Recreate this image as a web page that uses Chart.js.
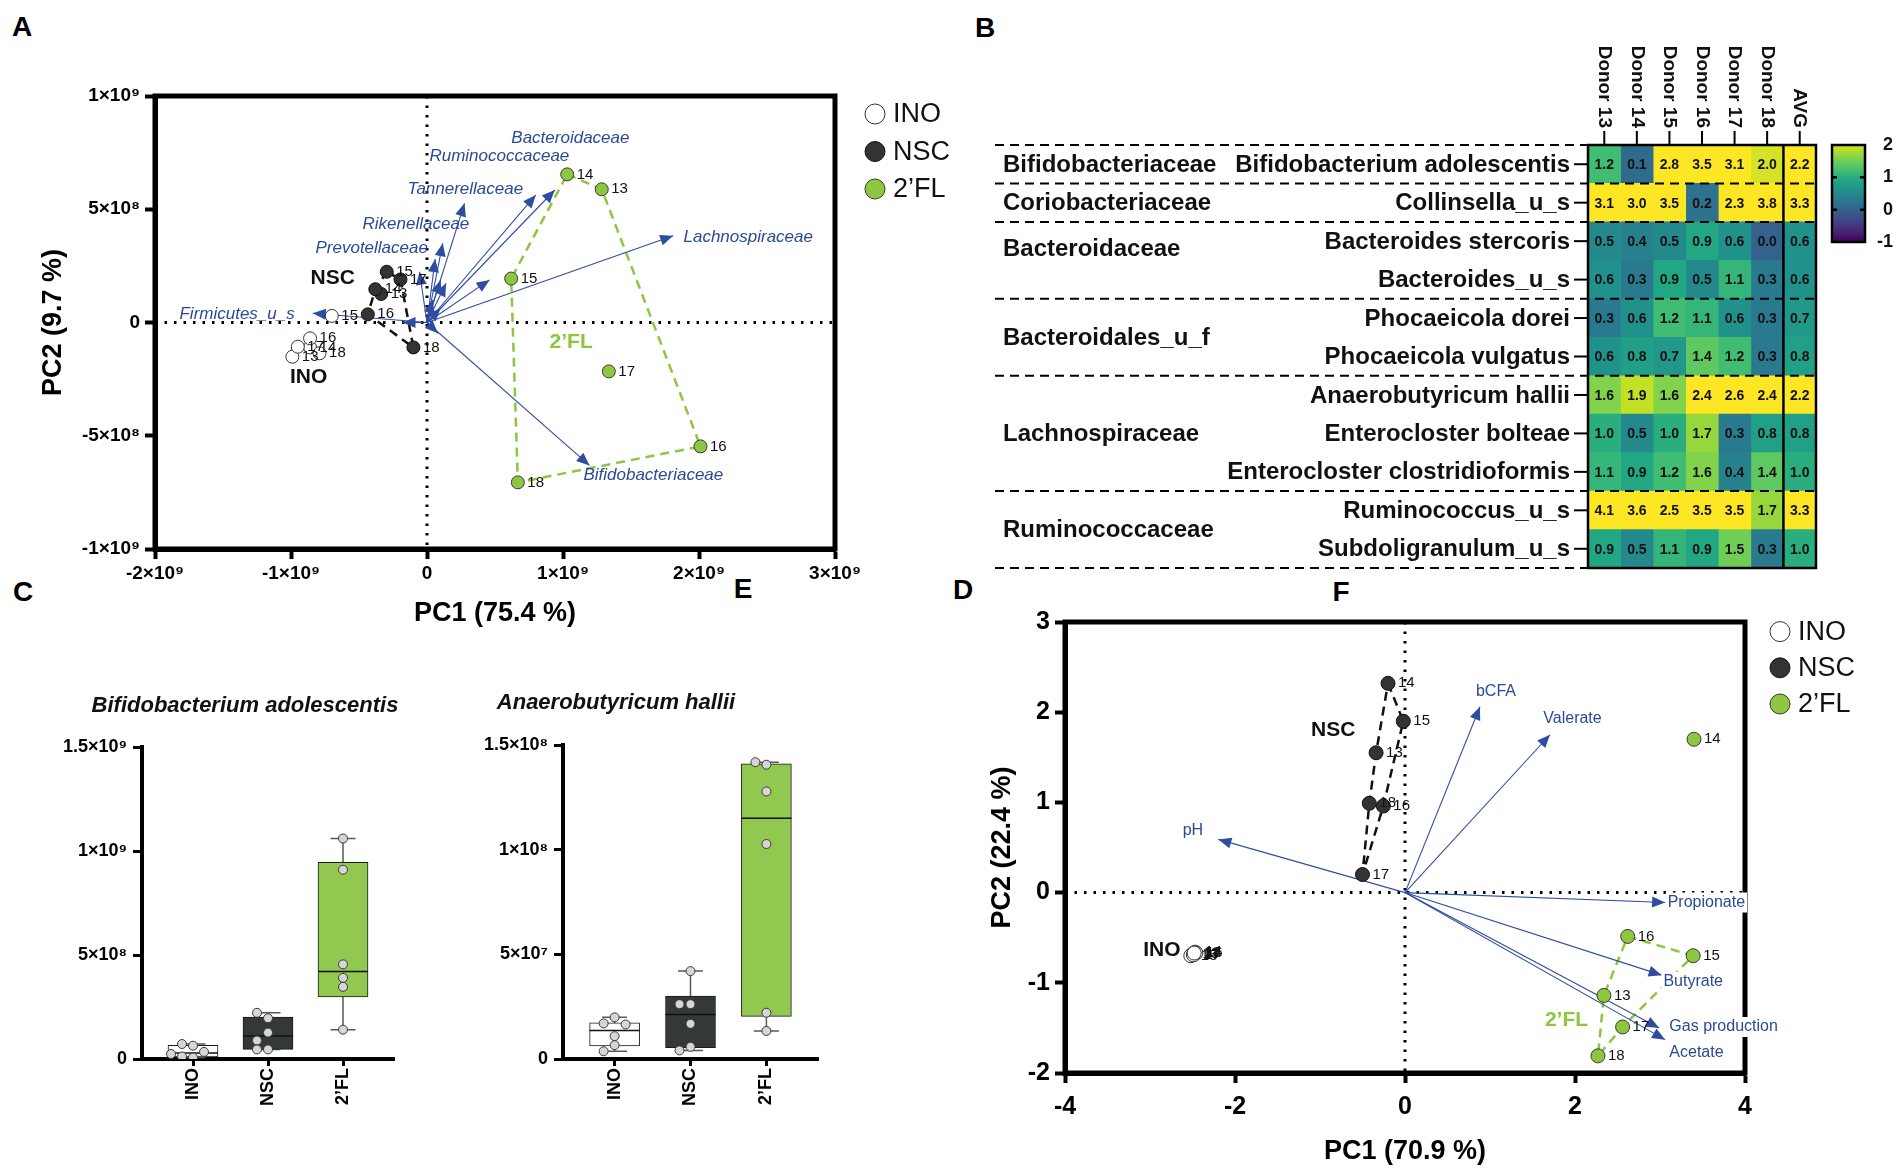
<!DOCTYPE html>
<html>
<head>
<meta charset="utf-8">
<title>2'FL in vitro fermentation</title>
<script src="https://cdn.jsdelivr.net/npm/chart.js@4.4.1/dist/chart.umd.min.js"></script>
<style>
  html, body { margin: 0; padding: 0; background: #fff; }
  body { position: relative; width: 1904px; height: 1171px; overflow: hidden;
         font-family: "Liberation Sans", Arial, sans-serif; }
  canvas { position: absolute; }
  .tag { position: absolute; font-weight: bold; font-size: 28px; transform: translate(-50%, -50%); }
</style>
</head>
<body>
<div class="tag" style="left:22px;top:27px">A</div>
<div class="tag" style="left:985px;top:28px">B</div>
<div class="tag" style="left:23px;top:592px">C</div>
<div class="tag" style="left:743px;top:589px">E</div>
<div class="tag" style="left:963px;top:590px">D</div>
<div class="tag" style="left:1341px;top:592px">F</div>

<canvas id="pcaTaxa" width="980" height="590" style="left:0;top:60px"></canvas>
<canvas id="heatmap" width="924" height="590" style="left:980px;top:0"></canvas>
<canvas id="boxBifido" width="440" height="501" style="left:0;top:670px"></canvas>
<canvas id="boxHallii" width="440" height="501" style="left:440px;top:670px"></canvas>
<canvas id="pcaMetab" width="954" height="591" style="left:950px;top:580px"></canvas>

<script>
// ===============================
// GROUPS / DONORS
// ===============================

const groupNames = ["INO", "NSC", "2’FL"];
const donorIds = ["13", "14", "15", "16", "17", "18"];


// ===============================
// A: PCA OF TAXA (donors 13-18)
// ===============================

const taxaInoPc1 = [-0.99e9, -0.86e9, -0.70e9, -0.86e9, -0.95e9, -0.79e9];
const taxaInoPc2 = [-0.151e9, -0.11e9, 0.029e9, -0.07e9, -0.107e9, -0.136e9];
const taxaNscPc1 = [-0.337e9, -0.38e9, -0.296e9, -0.435e9, -0.195e9, -0.10e9];
const taxaNscPc2 = [0.126e9, 0.147e9, 0.224e9, 0.036e9, 0.19e9, -0.11e9];
const taxaFlPc1 = [1.285e9, 1.031e9, 0.619e9, 2.011e9, 1.337e9, 0.668e9];
const taxaFlPc2 = [0.588e9, 0.654e9, 0.194e9, -0.547e9, -0.216e9, -0.706e9];

const taxaNscHull = [2, 4, 5, 3, 1, 2];
const taxaFlHull = [1, 0, 3, 5, 2, 1];

const taxaVectors = ["Lachnospiraceae", "Bifidobacteriaceae", "Bacteroidaceae", "Ruminococcaceae",
    "Tannerellaceae", "Rikenellaceae", "Prevotellaceae", "Firmicutes_u_s",
    "", "", "", "", "", "", "", ""];
const taxaVectorPc1 = [1.81e9, 1.195e9, 0.94e9, 0.80e9, 0.276e9, 0.116e9, -0.055e9, -0.84e9,
    0.46e9, 0.10e9, 0.14e9, 0.10e9, -0.18e9, 0.08e9, 0.04e9, 0.06e9];
const taxaVectorPc2 = [0.383e9, -0.631e9, 0.585e9, 0.563e9, 0.526e9, 0.35e9, 0.224e9, 0.041e9,
    0.188e9, 0.188e9, 0.173e9, 0.063e9, 0.0, -0.048e9, 0.10e9, 0.28e9];


// ===============================
// B: HEATMAP (log2 fold change 2'FL vs NSC)
// ===============================

const familyNames = ["Bifidobacteriaceae", "Coriobacteriaceae", "Bacteroidaceae",
    "Bacteroidales_u_f", "Lachnospiraceae", "Ruminococcaceae"];
const familySpans = [1, 1, 2, 2, 3, 2];

const speciesNames = ["Bifidobacterium adolescentis", "Collinsella_u_s", "Bacteroides stercoris",
    "Bacteroides_u_s", "Phocaeicola dorei", "Phocaeicola vulgatus", "Anaerobutyricum hallii",
    "Enterocloster bolteae", "Enterocloster clostridioformis", "Ruminococcus_u_s",
    "Subdoligranulum_u_s"];

const heatColumns = ["Donor 13", "Donor 14", "Donor 15", "Donor 16", "Donor 17", "Donor 18", "AVG"];

const foldChange = [
    [1.2, 0.1, 2.8, 3.5, 3.1, 2.0, 2.2],
    [3.1, 3.0, 3.5, 0.2, 2.3, 3.8, 3.3],
    [0.5, 0.4, 0.5, 0.9, 0.6, 0.0, 0.6],
    [0.6, 0.3, 0.9, 0.5, 1.1, 0.3, 0.6],
    [0.3, 0.6, 1.2, 1.1, 0.6, 0.3, 0.7],
    [0.6, 0.8, 0.7, 1.4, 1.2, 0.3, 0.8],
    [1.6, 1.9, 1.6, 2.4, 2.6, 2.4, 2.2],
    [1.0, 0.5, 1.0, 1.7, 0.3, 0.8, 0.8],
    [1.1, 0.9, 1.2, 1.6, 0.4, 1.4, 1.0],
    [4.1, 3.6, 2.5, 3.5, 3.5, 1.7, 3.3],
    [0.9, 0.5, 1.1, 0.9, 1.5, 0.3, 1.0]
];

const colorbarTicks = [2, 1, 0, -1];


// ===============================
// C: BIFIDOBACTERIUM ADOLESCENTIS (copies/mL)
// ===============================

const bifidoQ1 = [0.010e9, 0.046e9, 0.299e9];
const bifidoMedian = [0.029e9, 0.110e9, 0.421e9];
const bifidoQ3 = [0.066e9, 0.201e9, 0.945e9];
const bifidoMin = [0.007e9, 0.046e9, 0.141e9];
const bifidoMax = [0.072e9, 0.222e9, 1.060e9];
const bifidoIno = [0.064e9, 0.072e9, 0.034e9, 0.007e9, 0.012e9, 0.024e9];
const bifidoNsc = [0.196e9, 0.222e9, 0.127e9, 0.089e9, 0.046e9, 0.046e9];
const bifidoFl = [1.06e9, 0.91e9, 0.455e9, 0.39e9, 0.347e9, 0.141e9];


// ===============================
// E: ANAEROBUTYRICUM HALLII (copies/mL)
// ===============================

const halliiQ1 = [0.63e7, 0.54e7, 2.04e7];
const halliiMedian = [1.36e7, 2.12e7, 11.5e7];
const halliiQ3 = [1.73e7, 3.0e7, 14.1e7];
const halliiMin = [0.37e7, 0.41e7, 1.34e7];
const halliiMax = [1.99e7, 4.2e7, 14.18e7];
const halliiIno = [1.99e7, 1.70e7, 1.65e7, 1.09e7, 0.66e7, 0.37e7];
const halliiNsc = [4.2e7, 2.62e7, 2.62e7, 1.68e7, 0.58e7, 0.41e7];
const halliiFl = [14.06e7, 14.18e7, 12.78e7, 10.27e7, 2.21e7, 1.34e7];


// ===============================
// D: PCA OF METABOLITES (donors 13-18)
// ===============================

const metabInoPc1 = [-2.50, -2.47, -2.52, -2.46, -2.49, -2.48];
const metabInoPc2 = [-0.68, -0.66, -0.70, -0.67, -0.69, -0.67];
const metabNscPc1 = [-0.34, -0.20, -0.02, -0.255, -0.50, -0.42];
const metabNscPc2 = [1.55, 2.32, 1.90, 0.96, 0.20, 0.99];
const metabFlPc1 = [2.34, 3.40, 3.39, 2.62, 2.56, 2.27];
const metabFlPc2 = [-1.14, 1.70, -0.70, -0.486, -1.49, -1.81];

const metabNscHull = [1, 2, 3, 4, 5, 0, 1];
const metabFlHull = [3, 2, 4, 5, 0, 3];

const metabVectors = ["pH", "bCFA", "Valerate", "Propionate", "Butyrate", "Gas production", "Acetate"];
const metabVectorPc1 = [-2.196, 0.882, 1.706, 3.06, 3.02, 2.99, 3.06];
const metabVectorPc2 = [0.59, 2.06, 1.75, -0.11, -0.915, -1.50, -1.63];


// ===============================
// STYLE
// ===============================

const FONT = '"Liberation Sans", Arial, sans-serif';
const groupFill = ["#ffffff", "#333333", "#8dc63f"];
const groupEdge = ["#333333", "#111111", "#3a3a3a"];
const hullColor = [null, "#111111", "#8dc63f"];
const boxFill = ["#ffffff", "#353839", "#92c850"];
const vectorBlue = "#2f4da0";
const labelBlue = "#2b4996";

Chart.defaults.font.family = FONT;
Chart.defaults.color = "#000";
Chart.defaults.animation = false;

const SUP = { "0": "⁰", "1": "¹", "2": "²", "3": "³", "4": "⁴", "5": "⁵", "6": "⁶", "7": "⁷", "8": "⁸", "9": "⁹", "-": "⁻" };

function sciLabel(v) {
    if (Math.abs(v) < 1e-6) return "0";
    const e = Math.floor(Math.log10(Math.abs(v)) + 1e-9);
    const m = +(v / Math.pow(10, e)).toFixed(2);
    return m + "×10" + String(e).split("").map(c => SUP[c]).join("");
}

function hexRgb(h) {
    return [parseInt(h.slice(1, 3), 16), parseInt(h.slice(3, 5), 16), parseInt(h.slice(5, 7), 16)];
}

const viridisStops = ["#440154", "#482475", "#414487", "#355f8d", "#2a788e", "#21918c",
    "#22a884", "#44bf70", "#7ad151", "#bddf26", "#fde725"].map(hexRgb);

function heatColor(v) {
    let t = (v + 1) / 3.2;
    t = Math.max(0, Math.min(1, t));
    const p = t * 10, i = Math.min(9, Math.floor(p)), f = p - i;
    const a = viridisStops[i], b = viridisStops[i + 1];
    return "rgb(" + a.map((c, k) => Math.round(c + (b[k] - c) * f)).join(",") + ")";
}


// ===============================
// BIPLOT (panels A and D)
// ===============================

function buildBiplot(id, cfg) {
    const canvas = document.getElementById(id);
    const W = canvas.width, H = canvas.height, area = cfg.area;
    const datasets = [];

    cfg.pc1.forEach((xs, g) => {
        datasets.push({
            label: groupNames[g],
            data: xs.map((v, k) => ({ x: v, y: cfg.pc2[g][k] })),
            pointRadius: cfg.radius,
            backgroundColor: groupFill[g],
            borderColor: groupEdge[g],
            borderWidth: 1,
            order: 1
        });
    });

    cfg.hulls.forEach((hull, g) => {
        if (!hull) return;
        datasets.push({
            data: hull.map(k => ({ x: cfg.pc1[g][k], y: cfg.pc2[g][k] })),
            showLine: true,
            borderColor: hullColor[g],
            borderWidth: 2.5,
            borderDash: [9, 6],
            pointRadius: 0,
            order: 3
        });
    });

    cfg.vecX.forEach((vx, i) => {
        datasets.push({
            isVector: true,
            data: [{ x: 0, y: 0 }, { x: vx, y: cfg.vecY[i] }],
            showLine: true,
            borderColor: vectorBlue,
            borderWidth: 1.1,
            pointRadius: 0,
            order: 2
        });
    });

    const decor = {
        id: "biplotDecor",
        beforeDatasetsDraw(chart) {
            const { ctx, chartArea: a, scales: { x, y } } = chart;
            const x0 = x.getPixelForValue(0), y0 = y.getPixelForValue(0);
            ctx.save();
            ctx.strokeStyle = "#000";
            ctx.lineWidth = 3;
            ctx.setLineDash([2.5, 7]);
            ctx.beginPath();
            ctx.moveTo(a.left, y0); ctx.lineTo(a.right, y0);
            ctx.moveTo(x0, a.top); ctx.lineTo(x0, a.bottom);
            ctx.stroke();
            ctx.setLineDash([]);
            ctx.lineWidth = cfg.frame;
            ctx.strokeRect(a.left, a.top, a.right - a.left, a.bottom - a.top);
            ctx.restore();
        },
        afterDatasetDraw(chart, args) {
            const ds = chart.data.datasets[args.index];
            if (!ds.isVector) return;
            const p0 = args.meta.data[0], p1 = args.meta.data[1];
            const ang = Math.atan2(p1.y - p0.y, p1.x - p0.x);
            const len = 13, half = 5.5;
            const bx = p1.x - len * Math.cos(ang), by = p1.y - len * Math.sin(ang);
            const ctx = chart.ctx;
            ctx.save();
            ctx.fillStyle = vectorBlue;
            ctx.beginPath();
            ctx.moveTo(p1.x, p1.y);
            ctx.lineTo(bx + half * Math.sin(ang), by - half * Math.cos(ang));
            ctx.lineTo(bx - half * Math.sin(ang), by + half * Math.cos(ang));
            ctx.closePath();
            ctx.fill();
            ctx.restore();
        },
        afterDatasetsDraw(chart) {
            const { ctx, scales: { x, y } } = chart;
            ctx.save();
            ctx.textBaseline = "middle";

            // donor numbers next to points
            ctx.font = "15px " + FONT;
            ctx.fillStyle = "#111";
            ctx.textAlign = "left";
            for (let g = 0; g < 3; g++) {
                chart.getDatasetMeta(g).data.forEach((pt, k) => {
                    ctx.fillText(donorIds[k], pt.x + cfg.radius + 3, pt.y);
                });
            }

            // vector labels
            ctx.font = cfg.vecFont;
            cfg.vecNames.forEach((name, i) => {
                if (!name) return;
                const spot = cfg.vecLabelAt[i];
                const px = x.getPixelForValue(spot[0]), py = y.getPixelForValue(spot[1]);
                if (cfg.vecBox) {
                    const w = ctx.measureText(name).width;
                    ctx.fillStyle = "#fff";
                    ctx.fillRect(px - 2, py - 10, w + 4, 20);
                }
                ctx.fillStyle = labelBlue;
                ctx.fillText(name, px, py);
            });

            // group names
            ctx.font = "bold 21px " + FONT;
            ctx.textAlign = "center";
            cfg.groupLabelAt.forEach((spot, g) => {
                ctx.fillStyle = g === 2 ? groupFill[2] : "#111";
                ctx.fillText(groupNames[g], x.getPixelForValue(spot[0]), y.getPixelForValue(spot[1]));
            });
            ctx.restore();
        },
        afterDraw(chart) {
            const ctx = chart.ctx, L = cfg.legend;
            ctx.save();
            ctx.font = L.size + "px " + FONT;
            ctx.textAlign = "left";
            ctx.textBaseline = "middle";
            groupNames.forEach((name, g) => {
                const cy = L.y + g * L.dy;
                ctx.beginPath();
                ctx.arc(L.x, cy, L.r, 0, Math.PI * 2);
                ctx.fillStyle = groupFill[g];
                ctx.fill();
                ctx.lineWidth = 1;
                ctx.strokeStyle = groupEdge[g];
                ctx.stroke();
                ctx.fillStyle = "#111";
                ctx.fillText(name, L.x + L.r + 8, cy + 1);
            });
            ctx.restore();
        }
    };

    const axisCommon = (title, titlePad) => ({
        type: "linear",
        grid: { drawOnChartArea: false, drawTicks: true, tickLength: 10, tickWidth: 4, tickColor: "#000", color: "#000" },
        border: { display: true, width: cfg.frame, color: "#000" },
        title: { display: true, text: title, color: "#000", font: { weight: "bold", size: cfg.titleSize }, padding: titlePad }
    });

    return new Chart(canvas, {
        type: "scatter",
        data: { datasets: datasets },
        options: {
            responsive: false,
            animation: false,
            events: [],
            layout: { padding: { left: 0, top: area.top, right: W - area.right, bottom: 0 } },
            plugins: { legend: { display: false }, tooltip: { enabled: false } },
            scales: {
                x: Object.assign(axisCommon(cfg.xTitle, { top: 0, bottom: cfg.xTitlePad }), {
                    min: cfg.x.min, max: cfg.x.max,
                    afterFit: s => { s.height = H - area.bottom; },
                    ticks: { stepSize: cfg.x.step, callback: cfg.fmt, maxRotation: 0, color: "#000",
                        padding: cfg.tickPadX, font: { weight: "bold", size: cfg.tickSize } }
                }),
                y: Object.assign(axisCommon(cfg.yTitle, { top: cfg.yTitlePad, bottom: 0 }), {
                    min: cfg.y.min, max: cfg.y.max,
                    afterFit: s => { s.width = area.left; },
                    ticks: { stepSize: cfg.y.step, callback: cfg.fmt, color: "#000",
                        padding: cfg.tickPadY, font: { weight: "bold", size: cfg.tickSize } }
                })
            }
        },
        plugins: [decor]
    });
}


// ===============================
// BOX PLOTS (panels C and E)
// ===============================

const catMin = -0.68, catMax = 2.68;

function buildBoxPanel(id, cfg) {
    const canvas = document.getElementById(id);
    const W = canvas.width, H = canvas.height, area = cfg.area;
    const pxPerY = (area.bottom - area.top) / cfg.yMax;
    const pxPerX = (area.right - area.left) / (catMax - catMin);

    // simple swarm so overlapping dots sit side by side
    const swarm = [];
    cfg.points.forEach((vals, g) => {
        const placed = [];
        vals.forEach(v => {
            const py = v * pxPerY;
            let dx = 0;
            for (let k = 0; k < 9; k++) {
                const cand = k === 0 ? 0 : (k % 2 ? -1 : 1) * Math.ceil(k / 2) * 11;
                if (!placed.some(p => Math.hypot(p.dx - cand, p.py - py) < 8)) { dx = cand; break; }
            }
            placed.push({ dx: dx, py: py });
            swarm.push({ x: g + dx / pxPerX, y: v });
        });
    });

    const decor = {
        id: "boxDecor",
        beforeDatasetsDraw(chart) {
            const { ctx, scales: { x, y } } = chart;
            ctx.save();
            ctx.strokeStyle = "#5a5a5a";
            ctx.lineWidth = 1.5;
            groupNames.forEach((n, g) => {
                const cx = x.getPixelForValue(g);
                const lo = y.getPixelForValue(cfg.min[g]), hi = y.getPixelForValue(cfg.max[g]);
                ctx.beginPath();
                ctx.moveTo(cx, lo); ctx.lineTo(cx, hi);
                ctx.moveTo(cx - 12.5, lo); ctx.lineTo(cx + 12.5, lo);
                ctx.moveTo(cx - 12.5, hi); ctx.lineTo(cx + 12.5, hi);
                ctx.stroke();
            });
            ctx.restore();
        },
        afterDatasetDraw(chart, args) {
            if (args.index !== 0) return;
            const { ctx, scales: { x, y } } = chart;
            ctx.save();
            ctx.strokeStyle = "#111";
            ctx.lineWidth = 1.5;
            groupNames.forEach((n, g) => {
                const cx = x.getPixelForValue(g), my = y.getPixelForValue(cfg.median[g]);
                ctx.beginPath();
                ctx.moveTo(cx - 25, my); ctx.lineTo(cx + 25, my);
                ctx.stroke();
            });
            ctx.restore();
        },
        afterDraw(chart) {
            const ctx = chart.ctx;
            ctx.save();
            ctx.font = "italic bold 22px " + FONT;
            ctx.textAlign = "center";
            ctx.textBaseline = "middle";
            ctx.fillStyle = "#111";
            ctx.fillText(cfg.title, cfg.titleAt[0], cfg.titleAt[1]);
            ctx.restore();
        }
    };

    return new Chart(canvas, {
        type: "bar",
        data: {
            datasets: [{
                type: "bar",
                data: groupNames.map((n, g) => ({ x: g, y: [cfg.q1[g], cfg.q3[g]] })),
                backgroundColor: boxFill,
                borderColor: "#1a1a1a",
                borderWidth: 1,
                borderSkipped: false,
                barThickness: 50,
                order: 2
            }, {
                type: "scatter",
                data: swarm,
                pointRadius: 4.5,
                backgroundColor: "#d6d6d6",
                borderColor: "#3a3a3a",
                borderWidth: 1,
                order: 1
            }]
        },
        options: {
            responsive: false,
            animation: false,
            events: [],
            layout: { padding: { left: 0, top: area.top, right: W - area.right, bottom: 0 } },
            plugins: { legend: { display: false }, tooltip: { enabled: false } },
            scales: {
                x: {
                    type: "linear", min: catMin, max: catMax, offset: false,
                    afterFit: s => { s.height = H - area.bottom; },
                    afterBuildTicks: s => { s.ticks = groupNames.map((n, g) => ({ value: g })); },
                    ticks: { callback: v => groupNames[v], autoSkip: false, minRotation: 90, maxRotation: 90,
                        padding: 2, color: "#000", font: { weight: "bold", size: 18 } },
                    grid: { offset: false, drawOnChartArea: false, tickLength: 7, tickWidth: 3, tickColor: "#000" },
                    border: { display: true, width: 4, color: "#000" }
                },
                y: {
                    min: 0, max: cfg.yMax,
                    afterFit: s => { s.width = area.left; },
                    ticks: { stepSize: cfg.yStep, callback: sciLabel, padding: 6, color: "#000",
                        font: { weight: "bold", size: 18 } },
                    grid: { drawOnChartArea: false, tickLength: 9, tickWidth: 3, tickColor: "#000" },
                    border: { display: true, width: 4, color: "#000" }
                }
            }
        },
        plugins: [decor]
    });
}


// ===============================
// HEATMAP (panel B)
// ===============================

const familyBreaks = familySpans.reduce((acc, s) => { acc.push(acc[acc.length - 1] + s); return acc; }, [0]);
const familyLabelRow = [0, 1, 2.2, 4.5, 7, 9.5];

const heatDecor = {
    id: "heatDecor",
    afterDatasetsDraw(chart) {
        const { ctx, chartArea: a, scales: { x, y } } = chart;
        ctx.save();

        // values in the cells
        ctx.font = "bold 14px " + FONT;
        ctx.textAlign = "center";
        ctx.textBaseline = "middle";
        ctx.fillStyle = "#111";
        foldChange.forEach((row, r) => {
            row.forEach((v, j) => ctx.fillText(v.toFixed(1), x.getPixelForValue(j + 0.5), y.getPixelForValue(r) + 1));
        });

        // dashed family separators
        ctx.strokeStyle = "#000";
        ctx.lineWidth = 2;
        ctx.setLineDash([9, 6]);
        familyBreaks.forEach(b => {
            const yy = y.getPixelForValue(b - 0.5);
            ctx.beginPath();
            ctx.moveTo(15, yy); ctx.lineTo(a.right, yy);
            ctx.stroke();
        });
        ctx.setLineDash([]);

        // frame and AVG divider
        ctx.lineWidth = 2.5;
        ctx.strokeRect(a.left, a.top, a.right - a.left, a.bottom - a.top);
        const xAvg = x.getPixelForValue(heatColumns.length - 1);
        ctx.beginPath();
        ctx.moveTo(xAvg, a.top); ctx.lineTo(xAvg, a.bottom);
        ctx.stroke();

        // species labels with ticks
        ctx.font = "bold 24px " + FONT;
        ctx.textAlign = "right";
        ctx.lineWidth = 2;
        speciesNames.forEach((name, r) => {
            const yy = y.getPixelForValue(r);
            ctx.fillText(name, a.left - 18, yy + 1);
            ctx.beginPath();
            ctx.moveTo(a.left - 14, yy); ctx.lineTo(a.left, yy);
            ctx.stroke();
        });

        // family labels
        ctx.textAlign = "left";
        familyNames.forEach((name, f) => ctx.fillText(name, 23, y.getPixelForValue(familyLabelRow[f]) + 1));

        // column labels (rotated, reading downwards)
        ctx.font = "bold 19px " + FONT;
        heatColumns.forEach((col, j) => {
            const xx = x.getPixelForValue(j + 0.5);
            ctx.save();
            ctx.translate(xx, a.top - 17);
            ctx.rotate(Math.PI / 2);
            ctx.textAlign = "right";
            ctx.textBaseline = "middle";
            ctx.fillText(col, 0, 0);
            ctx.restore();
            ctx.beginPath();
            ctx.moveTo(xx, a.top - 14); ctx.lineTo(xx, a.top);
            ctx.stroke();
        });

        // colour bar
        const cb = { left: a.right + 16, right: a.right + 49, top: a.top, bottom: a.top + 97 };
        const grad = ctx.createLinearGradient(0, cb.top, 0, cb.bottom);
        for (let i = 0; i <= 20; i++) grad.addColorStop(i / 20, heatColor(2 - 3 * i / 20));
        ctx.fillStyle = grad;
        ctx.fillRect(cb.left, cb.top, cb.right - cb.left, cb.bottom - cb.top);
        ctx.lineWidth = 2.5;
        ctx.strokeStyle = "#000";
        ctx.strokeRect(cb.left, cb.top, cb.right - cb.left, cb.bottom - cb.top);
        ctx.font = "bold 18px " + FONT;
        ctx.textAlign = "left";
        ctx.fillStyle = "#111";
        colorbarTicks.forEach(v => {
            const yy = cb.top + (2 - v) / 3 * (cb.bottom - cb.top);
            if (v < 2 && v > -1) {
                ctx.beginPath();
                ctx.moveTo(cb.left, yy); ctx.lineTo(cb.left + 5, yy);
                ctx.moveTo(cb.right - 5, yy); ctx.lineTo(cb.right, yy);
                ctx.stroke();
            }
            ctx.fillText(String(v), cb.right + (v < 0 ? 12 : 18), yy);
        });
        ctx.restore();
    }
};

new Chart(document.getElementById("heatmap"), {
    type: "bar",
    data: {
        labels: speciesNames,
        datasets: heatColumns.map((col, j) => ({
            label: col,
            data: speciesNames.map(() => 1),
            backgroundColor: speciesNames.map((s, r) => heatColor(foldChange[r][j])),
            borderWidth: 0,
            barPercentage: 1,
            categoryPercentage: 1
        }))
    },
    options: {
        indexAxis: "y",
        responsive: false,
        animation: false,
        events: [],
        layout: { padding: { left: 608, right: 88, top: 145, bottom: 22 } },
        plugins: { legend: { display: false }, tooltip: { enabled: false } },
        scales: {
            x: { stacked: true, min: 0, max: heatColumns.length, display: false },
            y: { stacked: true, display: false }
        }
    },
    plugins: [heatDecor]
});


// ===============================
// DRAW PANELS
// ===============================

buildBiplot("pcaTaxa", {
    area: { left: 155, top: 36, right: 835, bottom: 489 },
    pc1: [taxaInoPc1, taxaNscPc1, taxaFlPc1],
    pc2: [taxaInoPc2, taxaNscPc2, taxaFlPc2],
    hulls: [null, taxaNscHull, taxaFlHull],
    vecNames: taxaVectors, vecX: taxaVectorPc1, vecY: taxaVectorPc2,
    vecLabelAt: [[1.886e9, 0.378e9], [1.15e9, -0.673e9], [0.62e9, 0.812e9], [0.018e9, 0.736e9],
        [-0.143e9, 0.588e9], [-0.474e9, 0.435e9], [-0.82e9, 0.326e9], [-1.82e9, 0.036e9]],
    vecFont: "italic 17px " + FONT, vecBox: false,
    groupLabelAt: [[-0.87e9, -0.24e9], [-0.693e9, 0.195e9], [1.06e9, -0.085e9]],
    x: { min: -2e9, max: 3e9, step: 1e9 }, y: { min: -1e9, max: 1e9, step: 5e8 },
    fmt: sciLabel, tickSize: 19, tickPadX: 3, tickPadY: 5,
    xTitle: "PC1 (75.4 %)", yTitle: "PC2 (9.7 %)", titleSize: 27, xTitlePad: 20, yTitlePad: 37,
    radius: 6.5, frame: 5,
    legend: { x: 875, y: 54, dy: 37.5, r: 10, size: 27 }
});

buildBiplot("pcaMetab", {
    area: { left: 115, top: 42, right: 795, bottom: 493 },
    pc1: [metabInoPc1, metabNscPc1, metabFlPc1],
    pc2: [metabInoPc2, metabNscPc2, metabFlPc2],
    hulls: [null, metabNscHull, metabFlHull],
    vecNames: metabVectors, vecX: metabVectorPc1, vecY: metabVectorPc2,
    vecLabelAt: [[-2.615, 0.688], [0.835, 2.23], [1.627, 1.925], [3.09, -0.11],
        [3.04, -0.99], [3.11, -1.49], [3.11, -1.77]],
    vecFont: "16px " + FONT, vecBox: true,
    groupLabelAt: [[-2.86, -0.644], [-0.844, 1.80], [1.90, -1.42]],
    x: { min: -4, max: 4, step: 2 }, y: { min: -2, max: 3, step: 1 },
    fmt: v => String(v), tickSize: 25, tickPadX: 9, tickPadY: 5,
    xTitle: "PC1 (70.9 %)", yTitle: "PC2 (22.4 %)", titleSize: 27, xTitlePad: 3, yTitlePad: 36,
    radius: 7, frame: 5,
    legend: { x: 830, y: 51.6, dy: 36.2, r: 10, size: 27 }
});

buildBoxPanel("boxBifido", {
    area: { left: 142, top: 77, right: 394, bottom: 389 },
    title: "Bifidobacterium adolescentis", titleAt: [245, 36],
    q1: bifidoQ1, q3: bifidoQ3, median: bifidoMedian, min: bifidoMin, max: bifidoMax,
    points: [bifidoIno, bifidoNsc, bifidoFl],
    yMax: 1.5e9, yStep: 5e8
});

buildBoxPanel("boxHallii", {
    area: { left: 123, top: 75, right: 378, bottom: 389 },
    title: "Anaerobutyricum hallii", titleAt: [176, 33],
    q1: halliiQ1, q3: halliiQ3, median: halliiMedian, min: halliiMin, max: halliiMax,
    points: [halliiIno, halliiNsc, halliiFl],
    yMax: 1.5e8, yStep: 5e7
});
</script>
</body>
</html>
